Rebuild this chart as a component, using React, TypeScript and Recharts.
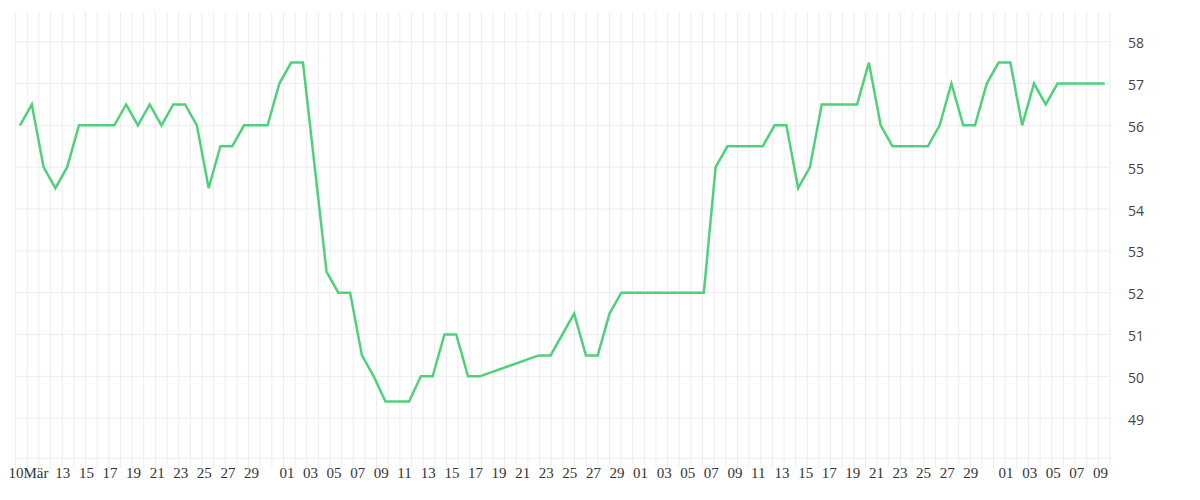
import { LineChart, Line, XAxis, YAxis, CartesianGrid } from 'recharts'

// one value per day, Mar 10 .. Jun 10 (null = no reading that day)
const values: (number | null)[] = [
  56, 56.5, 55, 54.5, 55, 56, 56, 56, 56, 56.5,
  56, 56.5, 56, 56.5, 56.5, 56, 54.5, 55.5, 55.5, 56,
  56, 56, 57, 57.5, 57.5, null, 52.5, 52, 52, 50.5,
  50, 49.4, 49.4, 49.4, 50, 50, 51, 51, 50, 50,
  null, null, null, null, 50.5, 50.5, null, 51.5, 50.5, 50.5,
  51.5, 52, 52, 52, 52, 52, 52, 52, 52, 55,
  55.5, 55.5, 55.5, 55.5, 56, 56, 54.5, 55, 56.5, 56.5,
  56.5, 56.5, 57.5, 56, 55.5, 55.5, 55.5, 55.5, 56, 57,
  56, 56, 57, 57.5, 57.5, 56, 57, 56.5, 57, 57,
  57, 57, 57,
]

const tickDays = [
  0, 3, 5, 7, 9, 11, 13, 15, 17, 19,
  22, 24, 26, 28, 30, 32, 34, 36, 38, 40, 42, 44, 46, 48, 50,
  52, 54, 56, 58, 60, 62, 64, 66, 68, 70, 72, 74, 76, 78, 80,
  83, 85, 87, 89, 91,
]
const tickLabels = [
  '10Mär', '13', '15', '17', '19', '21', '23', '25', '27', '29',
  '01', '03', '05', '07', '09', '11', '13', '15', '17', '19', '21', '23', '25', '27', '29',
  '01', '03', '05', '07', '09', '11', '13', '15', '17', '19', '21', '23', '25', '27', '29',
  '01', '03', '05', '07', '09',
]

const yTicks = [49, 50, 51, 52, 53, 54, 55, 56, 57, 58]

const X_MIN = -0.365
const X_MAX = 92.45
const Y_MIN = 48.04
const Y_MAX = 58.71
const GRID_STEPS = 94

const data = values.map((value, day) => ({ day, value }))

const GRID = '#ededed'
const LINE = '#4fd17c'

// light grid: evenly split columns, rows on the value ticks
const verticalLines = ({ offset }: any) =>
  Array.from({ length: GRID_STEPS + 1 }, (_, i) => offset.left + (i * offset.width) / GRID_STEPS)

const horizontalLines = ({ offset }: any) =>
  yTicks.map((v) => offset.top + ((Y_MAX - v) / (Y_MAX - Y_MIN)) * offset.height)

function GridTicks({ offset }: any) {
  if (!offset) return null
  const bottom = offset.top + offset.height
  const xs = verticalLines({ offset })
  return (
    <g stroke={GRID} strokeWidth={1}>
      <line x1={offset.left} x2={offset.left + offset.width} y1={bottom} y2={bottom} />
      {xs.map((x, i) => (
        <line key={i} x1={x} x2={x} y1={bottom} y2={bottom + 10} />
      ))}
    </g>
  )
}

function DayTick({ x, y, payload }: any) {
  const i = tickDays.indexOf(payload.value)
  if (i < 0) return null
  // the first label carries the month and hangs left of its day
  const shift = i === 0 ? -11.5 : 0
  return (
    <text x={x + shift} y={y} dy={20} textAnchor="start" fill="#333" fontSize={15}>
      {tickLabels[i]}
    </text>
  )
}

function ValueTick({ x, y, payload }: any) {
  return (
    <text
      x={x}
      y={y}
      dy={6.6}
      textAnchor="start"
      fill="#444"
      fontSize={14}
      fontFamily="'Open Sans', sans-serif"
    >
      {payload.value}
    </text>
  )
}

export default function App() {
  const offset = { left: 7.7, top: 4, width: 1094.3, height: 446.3 }
  return (
    <div style={{ position: 'relative', width: 1192, height: 492 }}>
      <LineChart
        width={1192}
        height={492}
        data={data}
        margin={{ top: 4, right: 30, bottom: 11.7, left: 7.7 }}
      >
        <CartesianGrid
          stroke={GRID}
          strokeWidth={1}
          verticalCoordinatesGenerator={verticalLines}
          horizontalCoordinatesGenerator={horizontalLines}
        />
        <XAxis
          dataKey="day"
          type="number"
          domain={[X_MIN, X_MAX]}
          allowDataOverflow
          ticks={tickDays}
          interval={0}
          height={30}
          tickSize={0}
          tickMargin={0}
          tickLine={false}
          axisLine={false}
          tick={<DayTick />}
        />
        <YAxis
          orientation="right"
          type="number"
          domain={[Y_MIN, Y_MAX]}
          allowDataOverflow
          ticks={yTicks}
          interval={0}
          width={60}
          tickSize={0}
          tickMargin={18}
          tickLine={false}
          axisLine={false}
          tick={<ValueTick />}
        />
        <Line
          dataKey="value"
          type="linear"
          stroke={LINE}
          strokeWidth={2.5}
          dot={false}
          activeDot={false}
          connectNulls
          isAnimationActive={false}
        />
      </LineChart>
      <svg
        width={1192}
        height={492}
        style={{ position: 'absolute', left: 0, top: 0, pointerEvents: 'none' }}
      >
        <GridTicks offset={offset} />
      </svg>
    </div>
  )
}
